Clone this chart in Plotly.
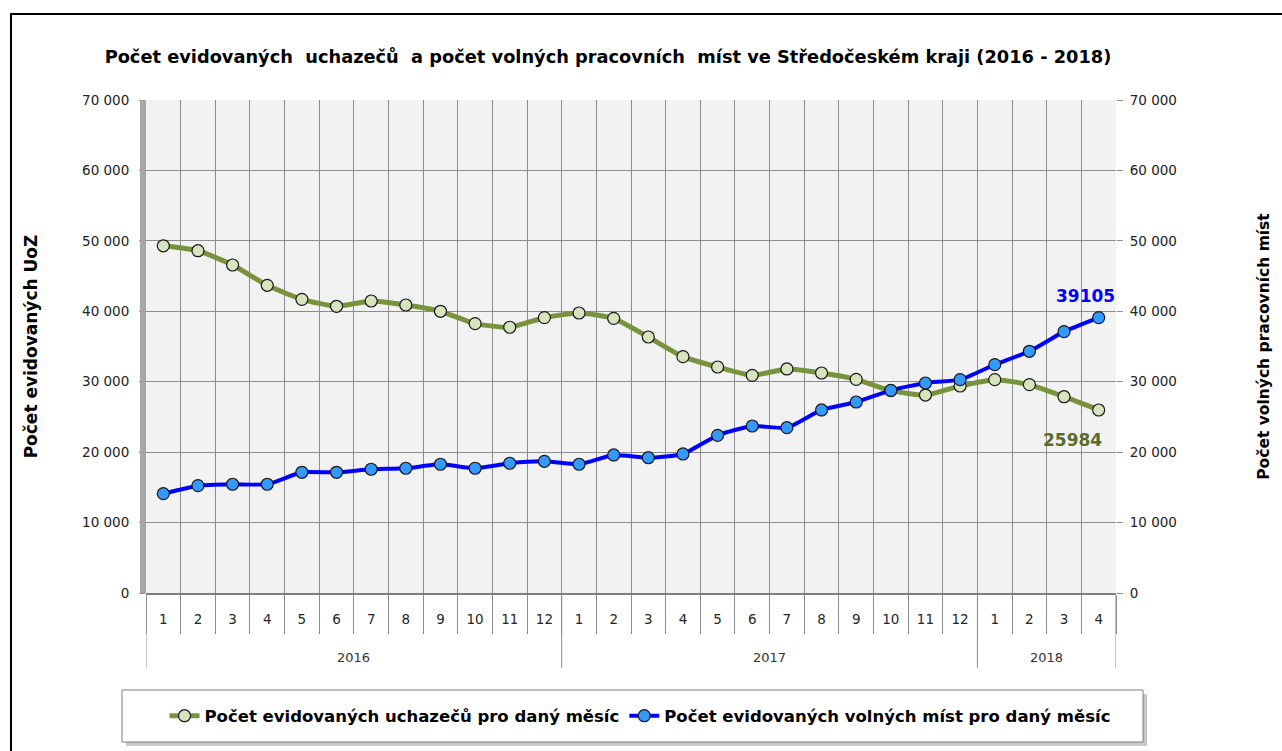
import plotly.graph_objects as go

years = ["2016"] * 12 + ["2017"] * 12 + ["2018"] * 4
months = [str(m) for m in range(1, 13)] + [str(m) for m in range(1, 13)] + [str(m) for m in range(1, 5)]

uchazeci = [49300, 48600, 46570, 43690, 41700, 40710, 41460, 40890, 40000, 38240, 37730, 39090,
            39760, 39000, 36350, 33560, 32090, 30910, 31810, 31240, 30340, 28730, 28110, 29390,
            30290, 29580, 27870, 25984]
volna_mista = [14100, 15240, 15440, 15440, 17140, 17140, 17570, 17710, 18280, 17710, 18420, 18700,
               18280, 19600, 19210, 19740, 22390, 23710, 23470, 25990, 27120, 28780, 29820, 30290,
               32420, 34320, 37110, 39105]

title_text = "Počet evidovaných  uchazečů  a počet volných pracovních  míst ve Středočeském kraji (2016 - 2018)"
name_u = "Počet evidovaných uchazečů pro daný měsíc"
name_v = "Počet evidovaných volných míst pro daný měsíc"
ytitle_left = "Počet evidovaných UoZ"
ytitle_right = "Počet volných pracovních míst"

FONT = "DejaVu Sans"
GREEN = "#77933c"
BLUE = "#0000ff"
GRID = "#8c8c8c"

W, H = 1282, 751
L, R, T, B = 146, 1116, 100, 593  # plot area in pixels


def px(xp):
    return (xp - L) / (R - L)


def py(yp):
    return (B - yp) / (B - T)


idx = list(range(len(months)))

fig = go.Figure()
fig.add_trace(go.Scatter(
    x=idx, y=uchazeci, name=name_u, mode="lines+markers",
    line=dict(color=GREEN, width=5, shape="spline", smoothing=0.5),
    marker=dict(size=12, color="#d7e4bd", line=dict(color="#1a1a1a", width=1.2)),
))
fig.add_trace(go.Scatter(
    x=idx, y=volna_mista, name=name_v, mode="lines+markers", yaxis="y2",
    line=dict(color=BLUE, width=4, shape="spline", smoothing=0.5),
    marker=dict(size=12, color="#3399ff", line=dict(color="#1a1a1a", width=1.2)),
))

last = idx[-1]
fig.add_annotation(x=last, y=volna_mista[-1], yref="y2", text="<b>%d</b>" % volna_mista[-1],
                   showarrow=False, xshift=-13, yshift=22,
                   font=dict(family=FONT, size=17, color=BLUE))
fig.add_annotation(x=last, y=uchazeci[-1], text="<b>%d</b>" % uchazeci[-1],
                   showarrow=False, xshift=-26, yshift=-30,
                   font=dict(family=FONT, size=17, color="#5b6b2b"))

# year group labels and separators
groups = []
for i, yv in enumerate(years):
    if not groups or groups[-1][0] != yv:
        groups.append([yv, i, i])
    else:
        groups[-1][2] = i
for yv, i0, i1 in groups:
    fig.add_annotation(x=(i0 + i1) / 2, xref="x", y=py(657), yref="paper", text=yv,
                       showarrow=False, yanchor="middle",
                       font=dict(family=FONT, size=13, color="#333333"))
bounds = [groups[0][1] - 0.5] + [g[2] + 0.5 for g in groups]
for b in bounds:
    fig.add_shape(type="line", xref="x", yref="paper", x0=b, x1=b, y0=0, y1=py(668),
                  line=dict(color=GRID, width=1))

fig.update_layout(
    width=W, height=H,
    margin=dict(l=L, r=W - R, t=T, b=H - B),
    paper_bgcolor="white", plot_bgcolor="#f2f2f2",
    separators=", ",
    font=dict(family=FONT, size=13, color="#1a1a1a"),
    title=dict(text="<b>" + title_text + "</b>", x=px(608), xanchor="center", xref="paper",
               y=1 - 57 / H, yref="container", yanchor="middle",
               font=dict(family=FONT, size=17.8, color="black")),
    showlegend=True,
    legend=dict(orientation="h", x=px(640), xanchor="center", y=py(716), yanchor="middle",
                bgcolor="rgba(0,0,0,0)", borderwidth=0,
                font=dict(family=FONT, size=16.5, color="black", weight="bold"),
                itemwidth=30, valign="middle"),
    xaxis=dict(range=[-0.5, len(months) - 0.5], tickmode="array", tickvals=idx, ticktext=months,
               showgrid=False, ticks="", ticklabelstandoff=13, automargin=False,
               zeroline=False, showline=True, linecolor="#7f7f7f", linewidth=2,
               tickfont=dict(family=FONT, size=13.5, color="#262626"),
               minor=dict(tick0=-0.5, dtick=1, showgrid=True, gridcolor=GRID, gridwidth=1,
                          ticks="outside", ticklen=39, tickcolor=GRID, tickwidth=1)),
    yaxis=dict(range=[0, 70000], dtick=10000, tickformat=",d", showgrid=True, gridcolor=GRID,
               gridwidth=1, zeroline=False, ticks="outside", ticklen=6, tickcolor=GRID,
               automargin=False, ticklabelstandoff=7,
               title=dict(text="<b>" + ytitle_left + "</b>", standoff=40,
                          font=dict(family=FONT, size=17, color="black")),
               tickfont=dict(family=FONT, size=13.5, color="#222222")),
    yaxis2=dict(range=[0, 70000], dtick=10000, tickformat=",d", overlaying="y", side="right",
                showgrid=False, zeroline=False, ticks="outside", ticklen=6, tickcolor=GRID,
                automargin=False, ticklabelstandoff=4,
                title=dict(text="<b>" + ytitle_right + "</b>", standoff=82,
                           font=dict(family=FONT, size=15.5, color="black")),
                tickfont=dict(family=FONT, size=13.5, color="#222222")),
)

# 3D wall shading on the left edge of the plot area
fig.add_shape(type="rect", xref="paper", yref="paper", x0=px(140), x1=0, y0=0, y1=1,
              fillcolor="#a6a6a6", line=dict(width=0), layer="above")
# legend box with shadow
fig.add_shape(type="rect", xref="paper", yref="paper", x0=px(126), x1=px(1147),
              y0=py(746), y1=py(694), fillcolor="#c8c8c8", line=dict(width=0), layer="below")
fig.add_shape(type="rect", xref="paper", yref="paper", x0=px(122), x1=px(1143),
              y0=py(742), y1=py(690), fillcolor="white", line=dict(color="#7f7f7f", width=1),
              layer="below")
# outer chart frame
fig.add_shape(type="rect", xref="paper", yref="paper", x0=px(11), x1=px(1300), y0=py(780),
              y1=py(14), fillcolor="rgba(0,0,0,0)",
              line=dict(color="black", width=2), layer="below")

fig.write_html("out.html", config={"displayModeBar": False},
               post_script="document.body.style.margin='0px';")
